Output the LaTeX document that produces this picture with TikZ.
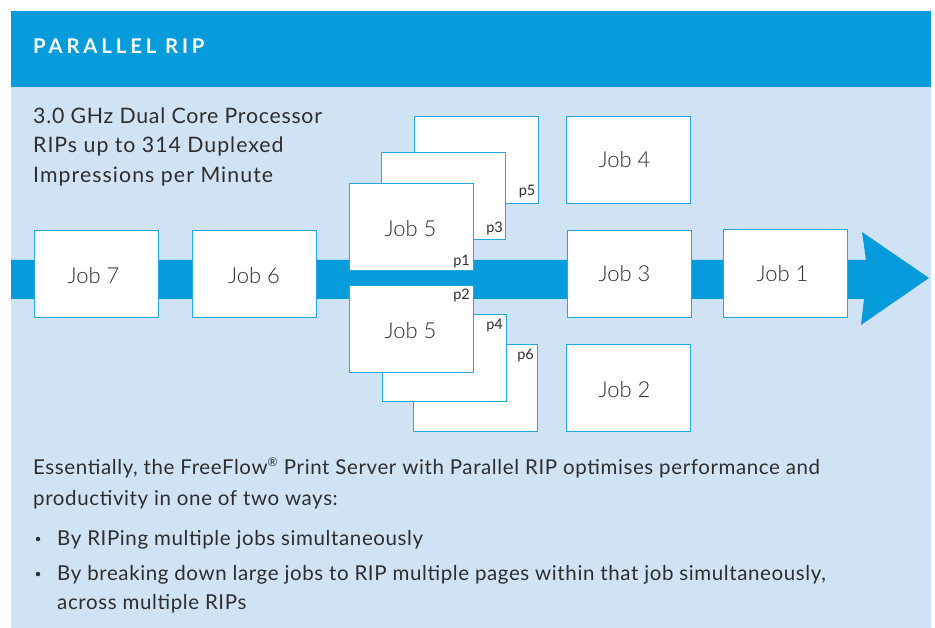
\documentclass[tikz,border=0pt]{standalone}
\usepackage{fontspec}
\setmainfont{Lato}
\newfontfamily\lightf{Lato Light}
\definecolor{hdr}{HTML}{069CDB}
\definecolor{pnl}{HTML}{CFE3F4}
\definecolor{edge}{HTML}{22A7E2}
\definecolor{ink}{HTML}{2F2D2E}
\tikzset{
  jobbox/.style={draw=edge,fill=white,line width=1.1pt,minimum width=124pt,minimum height=87.5pt,inner sep=0pt,anchor=north west},
  joblabel/.style={text=ink,inner sep=0pt,anchor=base,font=\lightf\fontsize{22}{26}\selectfont},
  pagelabel/.style={text=ink,inner sep=0pt,font=\fontsize{14.5}{16}\selectfont,anchor=base east},
  headtext/.style={text=ink,inner sep=0pt,anchor=base west,font=\fontsize{21.3}{24}\selectfont},
  bodytext/.style={text=ink,inner sep=0pt,anchor=base west,font=\fontsize{20.5}{24}\selectfont\addfontfeature{LetterSpace=3}},
  bullet/.style={circle,fill=ink,inner sep=0pt,minimum size=4.5pt}
}
\begin{document}
\begin{tikzpicture}[x=1pt,y=-1pt]
\useasboundingbox (0,0) rectangle (935,628);
\fill[white] (0,0) rectangle (935,628);
\fill[pnl] (11,11) rectangle (931,628);
\fill[hdr] (11,11) rectangle (931,87);
\fill[hdr] (11,260) -- (866,260) -- (862,232) -- (929,278) -- (861,325) -- (864,299) -- (11,299) -- cycle;
\node[anchor=base west,inner sep=0pt,text=white,font=\bfseries\fontsize{20.3}{22}\selectfont] (title) at (33,53.7) {\addfontfeature{LetterSpace=19}PARALLEL RIP};
\node[headtext] (h1) at (33,123.6) {\addfontfeature{LetterSpace=3.5}3.0 GHz Dual Core Processor};
\node[headtext] (h2) at (33,152.7) {\addfontfeature{LetterSpace=4.6}RIPs up to 314 Duplexed};
\node[headtext] (h3) at (33,182.7) {\addfontfeature{LetterSpace=5}Impressions per Minute};
\node[jobbox] (job7) at (34.2,229.7) {};
\node[jobbox] (job6) at (191.7,229.7) {};
\node[jobbox] (p5) at (414.2,115.7) {};
\node[jobbox] (p3) at (381.2,151.7) {};
\node[jobbox] (p1) at (348.7,182.7) {};
\node[jobbox] (p6) at (413.2,343.7) {};
\node[jobbox] (p4) at (382.2,313.7) {};
\node[jobbox] (p2) at (348.7,284.7) {};
\node[jobbox] (job4) at (566.2,115.7) {};
\node[jobbox] (job3) at (567.2,229.7) {};
\node[jobbox] (job2) at (566.2,343.7) {};
\node[jobbox] (job1) at (722.7,229.2) {};
\node[joblabel] (t7) at (93.5,283.7) {Job 7};
\node[joblabel] (t6) at (254,283.7) {Job 6};
\node[joblabel] (t5a) at (410.5,236.7) {Job 5};
\node[joblabel] (t5b) at (410.5,338.7) {Job 5};
\node[joblabel] (t4) at (624.5,168) {Job 4};
\node[joblabel] (t3) at (624.5,282) {Job 3};
\node[joblabel] (t2) at (624.5,397.7) {Job 2};
\node[joblabel] (t1) at (782.5,282) {Job 1};
\node[pagelabel] (l5) at (535.5,196) {p5};
\node[pagelabel] (l3) at (503,233) {p3};
\node[pagelabel] (l1) at (470,266) {p1};
\node[pagelabel] (l2) at (470,300) {p2};
\node[pagelabel] (l4) at (503,330) {p4};
\node[pagelabel] (l6) at (534,360) {p6};
\node[bodytext] (b1) at (33,474) {Essentially, the FreeFlow\textsuperscript{\fontsize{12}{12}\selectfont ®} Print Server with Parallel RIP optimises performance and};
\node[bodytext] (b2) at (33,505) {productivity in one of two ways:};
\node[bullet] (d1) at (38,539) {};
\node[bodytext] (b3) at (57,545) {By RIPing multiple jobs simultaneously};
\node[bullet] (d2) at (38,574) {};
\node[bodytext] (b4) at (57,580) {By breaking down large jobs to RIP multiple pages within that job simultaneously,};
\node[bodytext] (b5) at (57,609) {across multiple RIPs};
\end{tikzpicture}
\end{document}
